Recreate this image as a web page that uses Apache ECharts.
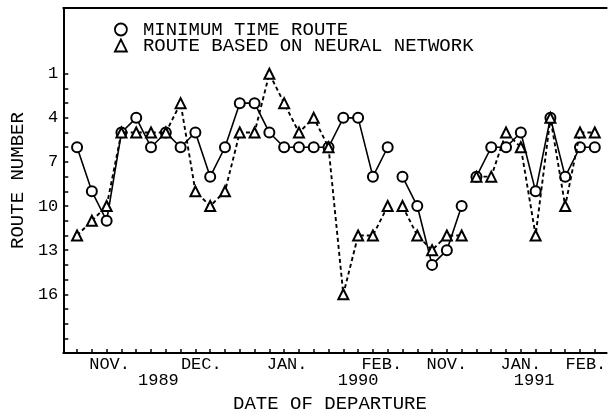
<!DOCTYPE html>
<html>
<head>
<meta charset="utf-8">
<script src="https://cdn.jsdelivr.net/npm/echarts@6/dist/echarts.min.js"></script>
<style>
  html, body { margin: 0; padding: 0; background: #fff; }
  #chart { width: 609px; height: 418px; }
</style>
</head>
<body>
<div id="chart"></div>
<script>
// route number chosen on each departure (index = departure number along the axis)
var minTimeRoute = [6, 9, 11, 5, 4, 6, 5, 6, 5, 8, 6, 3, 3, 5, 6, 6, 6, 6, 4, 4, 8, 6,
                    8, 10, 14, 13, 10,
                    8, 6, 6, 5, 9, 4, 8, 6, 6];
var neuralRoute = [12, 11, 10, 5, 5, 5, 5, 3, 9, 10, 9, 5, 5, 1, 3, 5, 4, 6, 16, 12, 12, 10,
                   10, 12, 13, 12, 12,
                   8, 8, 5, 6, 12, 4, 10, 5, 5];
// last departure of each voyage period (lines break after these)
var periodEnds = [21, 26];

var seriesNames = ['MINIMUM TIME ROUTE', 'ROUTE BASED ON NEURAL NETWORK'];

// axis labels
var monthLabels = ['NOV.', 'DEC.', 'JAN.', 'FEB.', 'NOV.', 'JAN.', 'FEB.'];
var monthAt = [2.2, 8.4, 14.2, 20.6, 25.0, 30.0, 34.4];
var yearLabels = ['1989', '1990', '1991'];
var yearAt = [5.5, 19.0, 30.9];
var routeLabels = [1, 4, 7, 10, 13, 16];
var routeTicks = [1, 2, 3, 4, 5, 6, 7, 8, 9, 10, 11, 12, 13, 14, 15, 16, 17, 18, 19];

var FONT = 'Liberation Mono';
var X_MIN = -0.93, X_MAX = 35.8;

function toPoints (values) {
  var pts = [];
  values.forEach(function (v, i) {
    pts.push([i, v]);
    if (periodEnds.indexOf(i) >= 0) pts.push([i + 0.5, '-']);
  });
  return pts;
}

function labelFor (positions, labels) {
  return function (v) {
    for (var i = 0; i < positions.length; i++) {
      if (Math.abs(positions[i] - v) < 1e-6) return labels[i];
    }
    return '';
  };
}

var departureTicks = minTimeRoute.map(function (v, i) { return i; });

var chartDom = document.getElementById('chart');
var myChart = echarts.init(chartDom);
var option;

option = {
  animation: false,
  backgroundColor: '#fff',
  grid: { left: 55, right: 0, top: 8, bottom: 58 },
  legend: {
    orient: 'vertical',
    left: 109,
    top: 15,
    itemWidth: 12,
    itemHeight: 12,
    itemGap: -3,
    selectedMode: false,
    itemStyle: { color: '#fff', borderColor: '#000', borderWidth: 1.8 },
    textStyle: { fontFamily: FONT, fontSize: 19, lineHeight: 14, color: '#000', padding: [0, 0, 0, 11] },
    data: [
      { name: seriesNames[0], icon: 'circle' },
      { name: seriesNames[1], icon: 'triangle' }
    ]
  },
  xAxis: [
    {
      type: 'value', min: X_MIN, max: X_MAX, position: 'bottom',
      axisLine: { show: true, onZero: false, lineStyle: { color: '#000', width: 2 } },
      axisTick: { show: true, inside: true, length: 4, customValues: departureTicks,
                  lineStyle: { color: '#000', width: 1.5 } },
      axisLabel: { customValues: monthAt, formatter: labelFor(monthAt, monthLabels), margin: 3,
                   fontFamily: FONT, fontSize: 17, color: '#000' },
      splitLine: { show: false }
    },
    {
      type: 'value', min: X_MIN, max: X_MAX, position: 'top',
      axisLine: { show: true, onZero: false, lineStyle: { color: '#000', width: 2 } },
      axisTick: { show: false },
      axisLabel: { show: false },
      splitLine: { show: false }
    },
    {
      type: 'value', min: X_MIN, max: X_MAX, position: 'bottom', offset: 16,
      axisLine: { show: false, onZero: false },
      axisTick: { show: false },
      axisLabel: { customValues: yearAt, formatter: labelFor(yearAt, yearLabels), margin: 3,
                   fontFamily: FONT, fontSize: 17, color: '#000' },
      splitLine: { show: false },
      name: 'DATE OF DEPARTURE',
      nameLocation: 'middle',
      nameGap: 21,
      nameTextStyle: { fontFamily: FONT, fontSize: 19, color: '#000', padding: [0, 10, 0, 0] }
    }
  ],
  yAxis: {
    type: 'value', inverse: true, min: -3.47, max: 20,
    axisLine: { show: true, onZero: false, lineStyle: { color: '#000', width: 2 } },
    axisTick: { show: true, inside: true, length: 5, customValues: routeTicks,
                lineStyle: { color: '#000', width: 1.5 } },
    axisLabel: { customValues: routeLabels, margin: 5, fontFamily: FONT, fontSize: 17, color: '#000' },
    splitLine: { show: false },
    name: 'ROUTE NUMBER',
    nameLocation: 'middle',
    nameGap: 30,
    nameTextStyle: { fontFamily: FONT, fontSize: 19, color: '#000' }
  },
  series: [
    {
      name: seriesNames[0],
      type: 'line',
      data: toPoints(minTimeRoute),
      connectNulls: false,
      symbol: 'emptyCircle',
      symbolSize: 10,
      lineStyle: { color: '#000', width: 1.6 },
      itemStyle: { color: '#000', borderColor: '#000', borderWidth: 1.8 },
      z: 2
    },
    {
      name: seriesNames[1],
      type: 'line',
      data: toPoints(neuralRoute),
      connectNulls: false,
      symbol: 'emptyTriangle',
      symbolSize: 10,
      lineStyle: { color: '#000', width: 1.9, type: [4, 3] },
      itemStyle: { color: '#000', borderColor: '#000', borderWidth: 2.2 },
      z: 3
    }
  ]
};

option && myChart.setOption(option);
</script>
</body>
</html>
